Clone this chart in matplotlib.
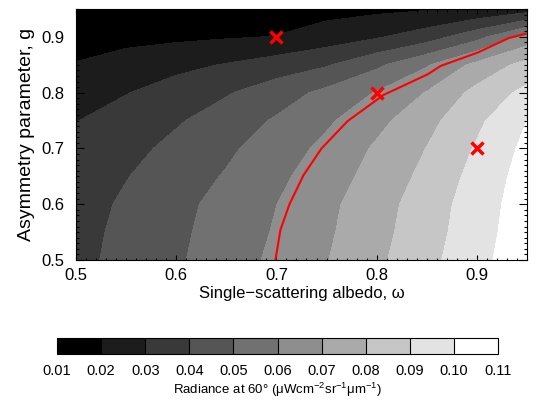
import numpy as np
import matplotlib
matplotlib.use('Agg')
import matplotlib.pyplot as plt
from matplotlib.colors import ListedColormap, BoundaryNorm
from matplotlib.ticker import MultipleLocator

plt.rcParams.update({'font.family': ['Liberation Sans', 'DejaVu Sans'],
                     'mathtext.fontset': 'custom',
                     'mathtext.rm': 'Liberation Sans',
                     'mathtext.it': 'Liberation Sans:italic'})

# model grid
omega = [0.50, 0.55, 0.60, 0.65, 0.70, 0.75, 0.80, 0.85, 0.90, 0.95]
asym_g = [0.50, 0.55, 0.60, 0.65, 0.70, 0.75, 0.80, 0.85, 0.90, 0.95]
# radiance, one row per g value, one column per omega value
radiance = [
    [0.0373, 0.0430, 0.0487, 0.0552, 0.0621, 0.0696, 0.0780, 0.0871, 0.0968, 0.1068],
    [0.0367, 0.0424, 0.0480, 0.0542, 0.0609, 0.0685, 0.0768, 0.0858, 0.0957, 0.1059],
    [0.0358, 0.0415, 0.0472, 0.0533, 0.0599, 0.0676, 0.0759, 0.0849, 0.0949, 0.1052],
    [0.0340, 0.0396, 0.0451, 0.0508, 0.0577, 0.0653, 0.0736, 0.0826, 0.0933, 0.1042],
    [0.0318, 0.0369, 0.0426, 0.0482, 0.0549, 0.0625, 0.0714, 0.0802, 0.0910, 0.1025],
    [0.0297, 0.0343, 0.0389, 0.0447, 0.0511, 0.0584, 0.0671, 0.0769, 0.0879, 0.1000],
    [0.0254, 0.0296, 0.0343, 0.0391, 0.0453, 0.0525, 0.0606, 0.0705, 0.0830, 0.0927],
    [0.0205, 0.0243, 0.0274, 0.0306, 0.0348, 0.0391, 0.0480, 0.0589, 0.0729, 0.0835],
    [0.0160, 0.0170, 0.0181, 0.0192, 0.0203, 0.0246, 0.0290, 0.0352, 0.0465, 0.0635],
    [0.0112, 0.0122, 0.0133, 0.0144, 0.0155, 0.0166, 0.0178, 0.0192, 0.0210, 0.0250],
]
levels = [0.01, 0.02, 0.03, 0.04, 0.05, 0.06, 0.07, 0.08, 0.09, 0.10, 0.11]
level_labels = ['0.01', '0.02', '0.03', '0.04', '0.05', '0.06', '0.07', '0.08', '0.09', '0.10', '0.11']

# red curve
curve_omega = [0.699, 0.704, 0.713, 0.727, 0.745, 0.771, 0.807, 0.851, 0.864, 0.901, 0.932, 0.950]
curve_g = [0.500, 0.554, 0.600, 0.652, 0.700, 0.749, 0.796, 0.833, 0.848, 0.872, 0.898, 0.906]

# crosses
cross_omega = [0.7, 0.8, 0.9]
cross_g = [0.9, 0.8, 0.7]

greys = ListedColormap([str(i / 9.0) for i in range(10)])
norm = BoundaryNorm(levels, greys.N)

fig = plt.figure(figsize=(5.55, 4.01), dpi=100, facecolor='w')
ax = fig.add_axes([0.1369, 0.3516, 0.8126, 0.626])

cf = ax.contourf(omega, asym_g, np.array(radiance), levels=levels, cmap=greys, norm=norm)
ax.plot(curve_omega, curve_g, color='red', lw=1.5)
ax.plot(cross_omega, cross_g, 'x', color='red', ms=8, mew=2.5)

ax.set_xlim(0.5, 0.95)
ax.set_ylim(0.5, 0.95)
ax.xaxis.set_major_locator(MultipleLocator(0.1))
ax.xaxis.set_minor_locator(MultipleLocator(0.01))
ax.yaxis.set_major_locator(MultipleLocator(0.1))
ax.yaxis.set_minor_locator(MultipleLocator(0.01))
ax.tick_params(axis='both', which='both', direction='in', top=True, right=True,
               labelsize=12, width=0.8)
ax.tick_params(axis='x', which='major', length=3.6, pad=6)
ax.tick_params(axis='x', which='minor', length=1.8)
ax.tick_params(axis='y', which='major', length=5.8, pad=8)
ax.tick_params(axis='y', which='minor', length=2.4)
ax.set_xlabel('Single\u2212scattering albedo, \u03c9', fontsize=12, labelpad=2)
ax.set_ylabel('Asymmetry parameter, g', fontsize=14, labelpad=5)

cax = fig.add_axes([0.1027, 0.1172, 0.7946, 0.0399])
cb = fig.colorbar(cf, cax=cax, orientation='horizontal', drawedges=True)
cb.set_ticks(levels)
cb.set_ticklabels(level_labels)
cb.ax.tick_params(length=0, labelsize=10.5, pad=7)
cb.outline.set_linewidth(0.8)
cb.dividers.set_linewidth(0.8)
cb.set_label('Radiance at 60\u00b0 (\u03bcWcm$^{-2}$sr$^{-1}$\u03bcm$^{-1}$)',
             fontsize=9.5, labelpad=2)

fig.savefig('out.png', dpi=100)
